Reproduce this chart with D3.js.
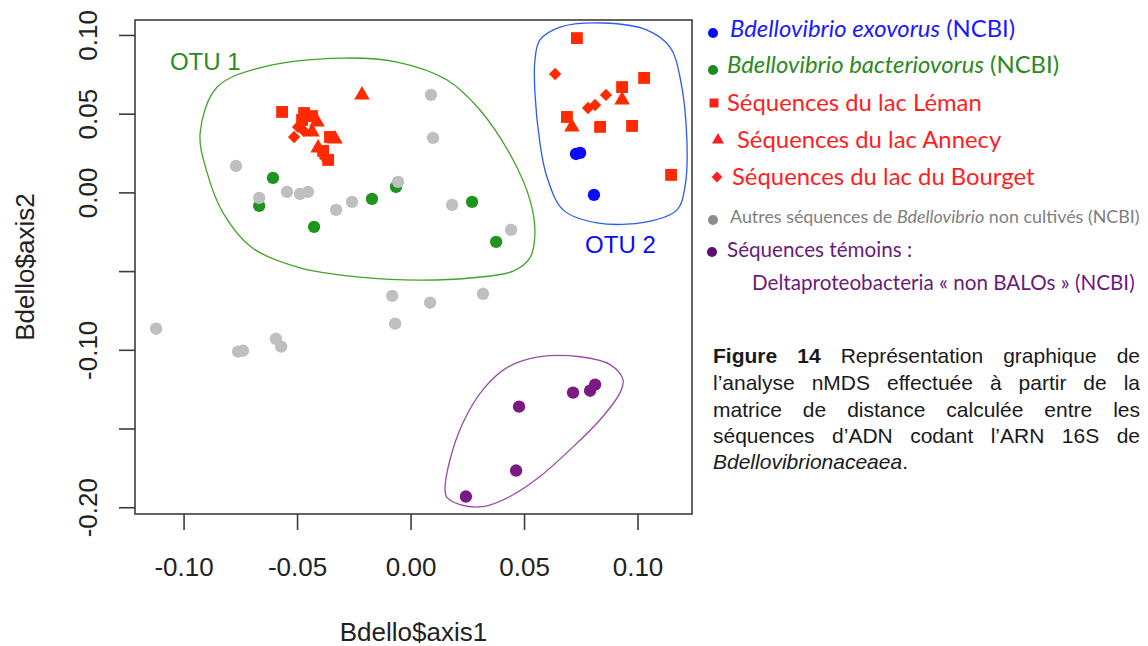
<!DOCTYPE html>
<html lang="fr">
<head>
<meta charset="utf-8">
<title>nMDS Bdellovibrionaceae</title>
<script src="https://cdn.jsdelivr.net/npm/d3@7"></script>
<style>
  body { margin: 0; background: #fff; }
  svg { display: block; }
  .rtext { font-family: "Liberation Sans", Arial, Helvetica, sans-serif; }
  .leg { font-family: Lato, "Open Sans", sans-serif; }
</style>
</head>
<body>
<svg></svg>
<script>
// ---- data (nMDS coordinates) ----
var xDomain = [-0.1214, 0.124];
var yDomain = [-0.2043, 0.1095];
var xTicks = [-0.10, -0.05, 0.00, 0.05, 0.10];
var yTicks = [0.10, 0.05, 0.00, -0.05, -0.10, -0.15, -0.20];
var yTickLabels = ["0.10", "0.05", "0.00", "", "-0.10", "", "-0.20"];

var bacteriovorus = [[-0.0606, 0.0092], [-0.0667, -0.0086], [-0.0425, -0.0219], [-0.0170, -0.0041],
  [-0.0064, 0.0035], [0.0271, -0.0060], [0.0377, -0.0314]];
var exovorus = [[0.0729, 0.0244], [0.0747, 0.0251], [0.0808, -0.0016]];
var leman = [[-0.0566, 0.0511], [-0.0469, 0.0504], [-0.0434, 0.0485], [-0.0478, 0.0460], [-0.0355, 0.0352],
  [-0.0385, 0.0263], [-0.0363, 0.0206], [0.0733, 0.0980], [0.1029, 0.0727], [0.0932, 0.0669],
  [0.0689, 0.0479], [0.0835, 0.0416], [0.0976, 0.0422], [0.1148, 0.0111]];
var annecy = [[-0.0214, 0.0619], [-0.0412, 0.0447], [-0.0434, 0.0384], [-0.0333, 0.0339], [-0.0407, 0.0282],
  [0.0932, 0.0587], [0.0711, 0.0416]];
var bourget = [[-0.0496, 0.0416], [-0.0513, 0.0352], [-0.0377, 0.0219], [-0.0470, 0.0390], [0.0637, 0.0752],
  [0.0861, 0.0619], [0.0813, 0.0555], [0.0782, 0.0536]];
var autres = [[-0.0769, 0.0168], [-0.0667, -0.0035], [-0.0544, 0.0003], [-0.0487, -0.0010], [-0.0452, 0.0003],
  [-0.0328, -0.0111], [-0.0258, -0.0060], [-0.0055, 0.0067], [0.0090, 0.0619], [0.0099, 0.0346],
  [0.0183, -0.0079], [0.0443, -0.0238], [-0.0081, -0.0657], [-0.0068, -0.0834], [0.0086, -0.0701],
  [0.0319, -0.0644], [-0.1121, -0.0866], [-0.0760, -0.1012], [-0.0738, -0.1006], [-0.0593, -0.0930],
  [-0.0570, -0.0980]];
var temoins = [[0.0478, -0.1361], [0.0716, -0.1272], [0.0791, -0.1260], [0.0813, -0.1221],
  [0.0465, -0.1767], [0.0244, -0.1932]];

// hand drawn groupings
var otu1Hull = [[-0.0927, 0.0378], [-0.0852, 0.0669], [-0.0650, 0.0796], [-0.0297, 0.0853], [-0.0059, 0.0828],
  [0.0161, 0.0714], [0.0306, 0.0523], [0.0452, 0.0206], [0.0526, -0.0048], [0.0548, -0.0257],
  [0.0526, -0.0416], [0.0452, -0.0500], [0.0262, -0.0544], [0.0042, -0.0557], [-0.0222, -0.0538],
  [-0.0487, -0.0479], [-0.0698, -0.0352], [-0.0826, -0.0130], [-0.0896, 0.0124]];
var otu2Hull = [[0.0548, 0.0841], [0.0570, 0.0968], [0.0659, 0.1050], [0.0848, 0.1076], [0.1042, 0.1031],
  [0.1143, 0.0923], [0.1187, 0.0733], [0.1218, 0.0314], [0.1209, 0.0035], [0.1174, -0.0111],
  [0.1042, -0.0187], [0.0822, -0.0194], [0.0672, -0.0111], [0.0601, 0.0098], [0.0570, 0.0314],
  [0.0548, 0.0632]];
var temoinsHull = [[0.0152, -0.1888], [0.0174, -0.1697], [0.0231, -0.1463], [0.0319, -0.1253], [0.0425, -0.1113],
  [0.0570, -0.1044], [0.0747, -0.1044], [0.0879, -0.1094], [0.0936, -0.1190], [0.0923, -0.1272],
  [0.0835, -0.1444], [0.0703, -0.1634], [0.0570, -0.1805], [0.0438, -0.1932], [0.0319, -0.1996],
  [0.0218, -0.1983], [0.0161, -0.1939]];
var otuNames = ["OTU 1", "OTU 2"];
var otuPos = [[-0.106, 0.0777], [0.0769, -0.0384]];

var legendLabels = [
  [["Bdellovibrio exovorus", 1], [" (NCBI)", 0]],
  [["Bdellovibrio bacteriovorus", 1], [" (NCBI)", 0]],
  [["Séquences du lac Léman", 0]],
  [["Séquences du lac Annecy", 0]],
  [["Séquences du lac du Bourget", 0]],
  [["Autres séquences de ", 0], ["Bdellovibrio", 1], [" non cultivés (NCBI)", 0]],
  [["Séquences témoins :", 0]],
  [["Deltaproteobacteria « non BALOs » (NCBI)", 0]]
];
var caption = [
  ["Figure", "14", "Représentation", "graphique", "de"],
  ["l’analyse", "nMDS", "effectuée", "à", "partir", "de", "la"],
  ["matrice", "de", "distance", "calculée", "entre", "les"],
  ["séquences", "d’ADN", "codant", "l’ARN", "16S", "de"]
];
var captionLast = "Bdellovibrionaceaea";

// ---- layout ----
var W = 1148, H = 646;
var box = {left: 135, right: 692, top: 20, bottom: 514};
var svg = d3.select("svg").attr("width", W).attr("height", H);

var x = d3.scaleLinear().domain(xDomain).range([box.left, box.right]);
var y = d3.scaleLinear().domain(yDomain).range([box.bottom, box.top]);

var col = {
  blue: "#0a0aff", green: "#1f9420", red: "#ff2a00", gray: "#bfbfbf", purple: "#7a1a84"
};

// hulls
var hull = d3.line()
  .x(function(d){ return x(d[0]); })
  .y(function(d){ return y(d[1]); })
  .curve(d3.curveCatmullRomClosed.alpha(0.5));

svg.append("path").attr("d", hull(otu1Hull)).attr("fill", "none")
  .attr("stroke", "#42a32a").attr("stroke-width", 1.3);
svg.append("path").attr("d", hull(otu2Hull)).attr("fill", "none")
  .attr("stroke", "#2a5cf0").attr("stroke-width", 1.3);
svg.append("path").attr("d", hull(temoinsHull)).attr("fill", "none")
  .attr("stroke", "#9a4ba6").attr("stroke-width", 1.3);

// points
function plotSeries(data, type, size, color, rot) {
  var sym = d3.symbol().type(type).size(size);
  svg.append("g").selectAll("path")
    .data(data)
    .enter().append("path")
    .attr("d", sym)
    .attr("fill", color)
    .attr("transform", function(d){
      return "translate(" + x(d[0]) + "," + y(d[1]) + ")" + (rot ? " rotate(" + rot + ")" : "");
    });
}
plotSeries(bacteriovorus, d3.symbolCircle, 120, col.green);
plotSeries(autres, d3.symbolCircle, 120, col.gray);
plotSeries(exovorus, d3.symbolCircle, 120, col.blue);
plotSeries(leman, d3.symbolSquare, 140, col.red);
plotSeries(annecy, d3.symbolTriangle, 105, col.red);
plotSeries(bourget, d3.symbolSquare, 76, col.red, 45);
plotSeries(temoins, d3.symbolCircle, 120, col.purple);

// OTU labels
svg.selectAll(".otu").data(otuNames).enter().append("text")
  .attr("class", "otu rtext")
  .attr("x", function(d, i){ return x(otuPos[i][0]); })
  .attr("y", function(d, i){ return y(otuPos[i][1]); })
  .attr("font-size", 24)
  .attr("fill", function(d, i){ return i == 0 ? "#2a8c1c" : "#0a0aff"; })
  .text(function(d){ return d; });

// box
svg.append("rect")
  .attr("x", box.left).attr("y", box.top)
  .attr("width", box.right - box.left).attr("height", box.bottom - box.top)
  .attr("fill", "none").attr("stroke", "#3c3c3c").attr("stroke-width", 1.6);

// axes
var xAxis = d3.axisBottom(x).tickValues(xTicks).tickSize(16).tickPadding(28)
  .tickFormat(function(d){ return d.toFixed(2); });
var gx = svg.append("g").attr("transform", "translate(0," + box.bottom + ")").call(xAxis);
gx.select(".domain").remove();

var yAxis = d3.axisLeft(y).tickValues(yTicks).tickSize(16)
  .tickFormat(function(d, i){ return yTickLabels[i]; });
var gy = svg.append("g").attr("transform", "translate(" + box.left + ",0)").call(yAxis);
gy.select(".domain").remove();
gy.selectAll("text")
  .attr("x", null).attr("dy", null)
  .attr("text-anchor", "middle")
  .attr("transform", "translate(-38,0) rotate(-90)");

[gx, gy].forEach(function(g){
  g.attr("font-family", null).attr("font-size", null);
  g.selectAll("line").attr("stroke", "#3c3c3c").attr("stroke-width", 1.6);
  g.selectAll("text").attr("class", "rtext").attr("font-size", 26).attr("fill", "#222");
});

// axis titles
svg.append("text").attr("class", "rtext")
  .attr("x", (box.left + box.right) / 2).attr("y", 641)
  .attr("text-anchor", "middle").attr("font-size", 26).attr("fill", "#222")
  .text("Bdello$axis1");
svg.append("text").attr("class", "rtext")
  .attr("transform", "translate(34," + (box.top + box.bottom) / 2 + ") rotate(-90)")
  .attr("text-anchor", "middle").attr("font-size", 26).attr("fill", "#222")
  .text("Bdello$axis2");

// ---- legend ----
var legTextX = [730, 727, 727, 737, 732, 730, 727, 752];
var legY = [37, 73, 111, 148, 185, 223, 257, 290];
var legColor = ["#1a1aff", "#2a8a1e", "#ff1e1e", "#ff1e1e", "#ff1e1e", "#808080", "#6b1a7b", "#6b1a7b"];
var legMarks = [
  [d3.symbolCircle, 80, "#0a0aff", 713, 33, 0],
  [d3.symbolCircle, 80, "#1f8a1f", 713, 70, 0],
  [d3.symbolSquare, 81, "#ff1e1e", 714, 103, 0],
  [d3.symbolTriangle, 62, "#ff1e1e", 718, 140, 0],
  [d3.symbolSquare, 58, "#ff1e1e", 717, 177, 45],
  [d3.symbolCircle, 80, "#8c8c8c", 713, 220, 0],
  [d3.symbolCircle, 80, "#5e0f6e", 712, 252, 0]
];

var leg = svg.append("g");
legMarks.forEach(function(m){
  leg.append("path").attr("d", d3.symbol().type(m[0]).size(m[1])())
    .attr("fill", m[2])
    .attr("transform", "translate(" + m[3] + "," + m[4] + ") rotate(" + m[5] + ")");
});
var legText = leg.selectAll("text").data(legendLabels).enter().append("text")
  .attr("class", "leg")
  .attr("x", function(d, i){ return legTextX[i]; })
  .attr("y", function(d, i){ return legY[i]; })
  .attr("fill", function(d, i){ return legColor[i]; })
  .attr("font-size", 20);
legText.selectAll("tspan").data(function(d){ return d; }).enter().append("tspan")
  .attr("font-style", function(d){ return d[1] ? "italic" : null; })
  .text(function(d){ return d[0]; });

// fit legend font sizes to the widths in the figure
function fitRow(i, target) {
  var n = legText.nodes()[i];
  return 20 * target / n.getComputedTextLength();
}
var fsMain = fitRow(2, 255), fsGray = fitRow(5, 410), fsPurple = fitRow(7, 383);
legText.attr("font-size", function(d, i){
  if (i == 5) return fsGray;
  if (i >= 6) return fsPurple;
  return fsMain;
});

// ---- caption, justified ----
var capLeft = 713, capRight = 1140, capY = [363, 390, 417, 443, 469];
var cap = svg.append("g").attr("class", "rtext").attr("font-size", 21).attr("fill", "#1a1a1a");
caption.forEach(function(words, li){
  var nodes = words.map(function(w, wi){
    return cap.append("text").attr("y", capY[li])
      .attr("font-weight", (li == 0 && wi < 2) ? "bold" : null)
      .text(w).node();
  });
  var widths = nodes.map(function(n){ return n.getComputedTextLength(); });
  var gap = (capRight - capLeft - d3.sum(widths)) / (words.length - 1);
  var cx = capLeft;
  nodes.forEach(function(n, k){
    d3.select(n).attr("x", cx);
    cx += widths[k] + gap;
  });
});
var last = cap.append("text").attr("x", capLeft).attr("y", capY[4]);
last.append("tspan").attr("font-style", "italic").text(captionLast);
last.append("tspan").text(".");
</script>
</body>
</html>
